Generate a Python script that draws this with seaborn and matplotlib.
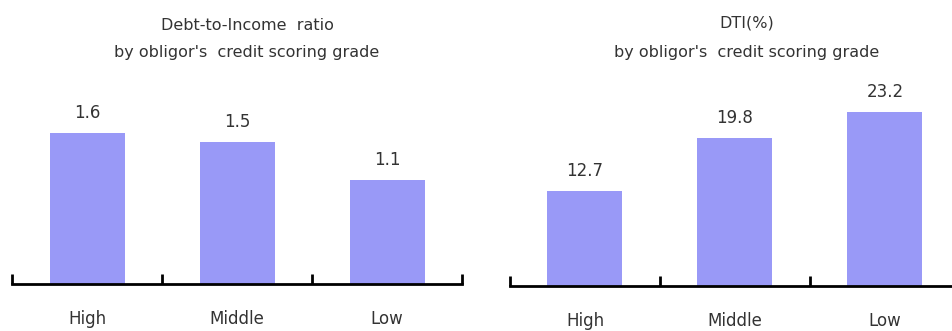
import matplotlib
matplotlib.use("Agg")
import matplotlib.pyplot as plt
import seaborn as sns
import pandas as pd
from matplotlib.ticker import FixedLocator

categories = ["High", "Middle", "Low"]
dti_ratio = [1.6, 1.5, 1.1]
dti_pct = [12.7, 19.8, 23.2]
value_labels_left = ["1.6", "1.5", "1.1"]
value_labels_right = ["12.7", "19.8", "23.2"]
title_left = ["Debt-to-Income  ratio", "by obligor's  credit scoring grade"]
title_right = ["DTI(%)", "by obligor's  credit scoring grade"]

sns.set_theme(style="white")
plt.rcParams['font.family'] = ['DejaVu Sans']

W, H = 953, 331
fig = plt.figure(figsize=(W / 100, H / 100), dpi=100)
fig.patch.set_facecolor("white")

bar_color = "#9999F7"
text_color = "#333333"

def make_axes(x0, x1, ybase, ytop):
    return fig.add_axes([x0 / W, (H - ybase) / H, (x1 - x0) / W, (ybase - ytop) / H])

panels = [
    (make_axes(12, 462, 284, 80), dti_ratio, value_labels_left, 204 / 94.4,
     title_left, 247, (25, 53)),
    (make_axes(510, 960, 286, 80), dti_pct, value_labels_right, 206 / 7.48,
     title_right, 747, (23, 52)),
]

for ax, vals, labs, ymax, title, tx, tys in panels:
    df = pd.DataFrame({"grade": categories, "value": vals})
    sns.barplot(data=df, x="grade", y="value", color=bar_color, saturation=1,
                width=0.5, ax=ax, edgecolor="none")
    ax.set_xlim(-0.5, 2.5)
    ax.set_ylim(0, ymax)
    for s in ["top", "right", "left"]:
        ax.spines[s].set_visible(False)
    ax.spines["bottom"].set_color("black")
    ax.spines["bottom"].set_linewidth(2)
    ax.set_yticks([])
    ax.set_xlabel("")
    ax.set_ylabel("")
    ax.xaxis.set_minor_locator(FixedLocator([-0.5, 0.5, 1.5, 2.5]))
    ax.tick_params(axis="x", which="minor", direction="in", length=7, width=2,
                   color="black", bottom=True)
    ax.tick_params(axis="x", which="major", length=0, pad=19, labelsize=12,
                   labelcolor=text_color)
    for i, (v, t) in enumerate(zip(vals, labs)):
        ax.annotate(t, xy=(i, v), xytext=(0, 8), textcoords="offset points",
                    ha="center", va="bottom", fontsize=12, color=text_color)
    for line, ty in zip(title, tys):
        fig.text(tx / W, 1 - ty / H, line, ha="center", va="center",
                 fontsize=11.5, color=text_color)

fig.savefig("out.png", dpi=100, facecolor="white")
